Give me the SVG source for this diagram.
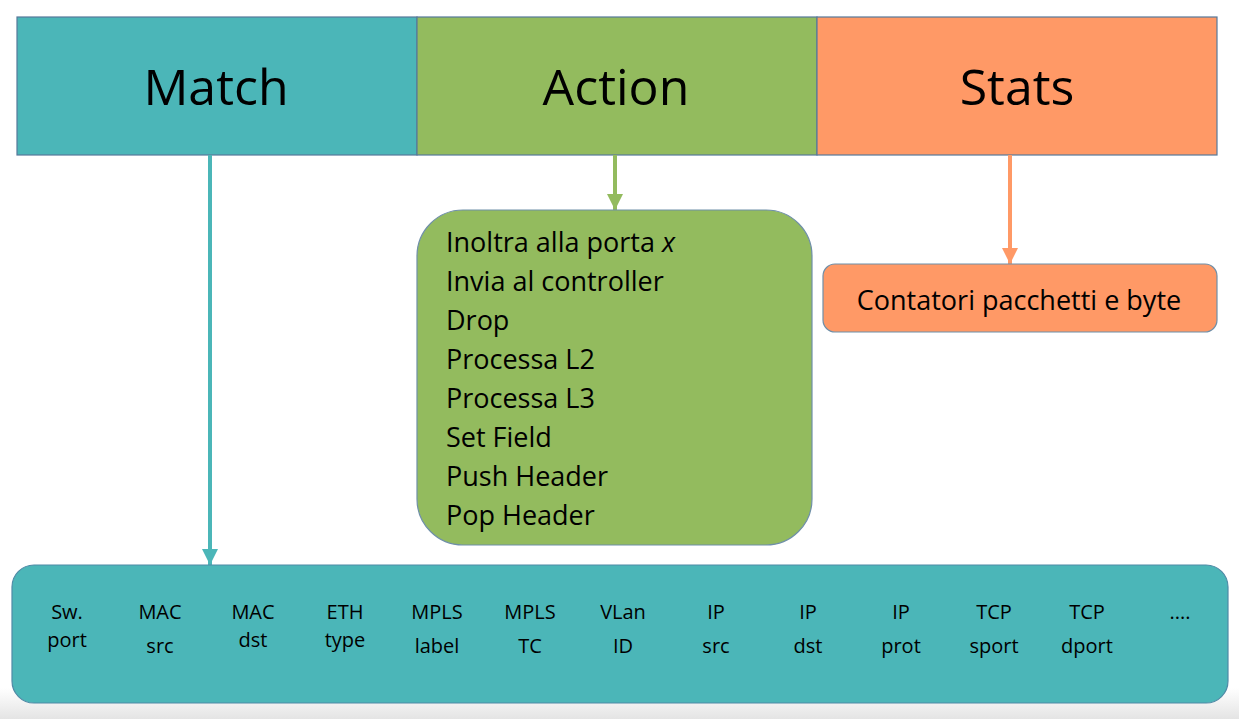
<svg xmlns="http://www.w3.org/2000/svg" width="1239" height="719" viewBox="0 0 1239 719">
  <defs>
    <style>
      .hdr { font-family: "Open Sans", "Liberation Sans", sans-serif; font-size: 50px; fill: #000; text-anchor: middle; }
      .txt { font-family: "Open Sans", "Liberation Sans", sans-serif; font-size: 27px; fill: #000; }
      .fld { font-family: "Open Sans", "Liberation Sans", sans-serif; font-size: 20px; fill: #000; text-anchor: middle; }
      .edge { stroke: #56799a; stroke-width: 1.2; }
    </style>
    <linearGradient id="shade" x1="0" y1="0" x2="0" y2="1">
      <stop offset="0" stop-color="#ffffff"/>
      <stop offset="1" stop-color="#e4e4e4"/>
    </linearGradient>
    <marker id="ahTeal" viewBox="0 0 10 10" refX="10" refY="5" markerWidth="4" markerHeight="4" orient="auto" markerUnits="strokeWidth">
      <path d="M0,0 L10,5 L0,10 Z" fill="#4bb6b8"/>
    </marker>
    <marker id="ahGreen" viewBox="0 0 10 10" refX="10" refY="5" markerWidth="4" markerHeight="4" orient="auto" markerUnits="strokeWidth">
      <path d="M0,0 L10,5 L0,10 Z" fill="#93bb5e"/>
    </marker>
    <marker id="ahOrange" viewBox="0 0 10 10" refX="10" refY="5" markerWidth="4" markerHeight="4" orient="auto" markerUnits="strokeWidth">
      <path d="M0,0 L10,5 L0,10 Z" fill="#ff9966"/>
    </marker>
  </defs>

  <rect x="0" y="0" width="1239" height="719" fill="#ffffff"/>
  <rect x="0" y="688" width="1239" height="31" fill="url(#shade)"/>

  <g id="match-header">
    <rect x="17" y="17" width="400" height="138" fill="#4bb6b8" class="edge"/>
    <text x="216" y="105" class="hdr">Match</text>
  </g>
  <g id="action-header">
    <rect x="417" y="17" width="400" height="138" fill="#93bb5e" class="edge"/>
    <text x="616" y="105" class="hdr">Action</text>
  </g>
  <g id="stats-header">
    <rect x="817" y="17" width="400" height="138" fill="#ff9966" class="edge"/>
    <text x="1017" y="105" class="hdr">Stats</text>
  </g>

  <g id="connectors" fill="none" stroke-width="4">
    <line x1="210" y1="155" x2="210" y2="565" stroke="#4bb6b8" marker-end="url(#ahTeal)"/>
    <line x1="615" y1="155" x2="615" y2="210" stroke="#93bb5e" marker-end="url(#ahGreen)"/>
    <line x1="1010" y1="155" x2="1010" y2="264" stroke="#ff9966" marker-end="url(#ahOrange)"/>
  </g>

  <g id="actions">
    <rect x="417" y="210" width="395" height="335" rx="46" ry="46" fill="#93bb5e" stroke="#6f8fa8" stroke-width="1.2"/>
    <text class="txt" x="446" y="252">Inoltra alla porta <tspan font-style="italic">x</tspan></text>
    <text class="txt" x="446" y="291">Invia al controller</text>
    <text class="txt" x="446" y="330">Drop</text>
    <text class="txt" x="446" y="369">Processa L2</text>
    <text class="txt" x="446" y="408">Processa L3</text>
    <text class="txt" x="446" y="447">Set Field</text>
    <text class="txt" x="446" y="486">Push Header</text>
    <text class="txt" x="446" y="525">Pop Header</text>
  </g>

  <g id="stats">
    <rect x="823" y="264" width="394" height="68" rx="12" ry="12" fill="#ff9966" stroke="#6f8fa8" stroke-width="1.2"/>
    <text class="txt" x="1019" y="310" text-anchor="middle">Contatori pacchetti e byte</text>
  </g>

  <g id="match-fields">
    <rect x="12" y="565" width="1216" height="138" rx="22" ry="22" fill="#4bb6b8" stroke="#4f8aa6" stroke-width="1.2"/>
    <text class="fld" x="67" y="619">Sw.</text><text class="fld" x="67" y="647">port</text>
    <text class="fld" x="160" y="619">MAC</text><text class="fld" x="160" y="653">src</text>
    <text class="fld" x="253" y="619">MAC</text><text class="fld" x="253" y="647">dst</text>
    <text class="fld" x="345" y="619">ETH</text><text class="fld" x="345" y="647">type</text>
    <text class="fld" x="437" y="619">MPLS</text><text class="fld" x="437" y="653">label</text>
    <text class="fld" x="530" y="619">MPLS</text><text class="fld" x="530" y="653">TC</text>
    <text class="fld" x="623" y="619">VLan</text><text class="fld" x="623" y="653">ID</text>
    <text class="fld" x="716" y="619">IP</text><text class="fld" x="716" y="653">src</text>
    <text class="fld" x="808" y="619">IP</text><text class="fld" x="808" y="653">dst</text>
    <text class="fld" x="901" y="619">IP</text><text class="fld" x="901" y="653">prot</text>
    <text class="fld" x="994" y="619">TCP</text><text class="fld" x="994" y="653">sport</text>
    <text class="fld" x="1087" y="619">TCP</text><text class="fld" x="1087" y="653">dport</text>
    <text class="fld" x="1180" y="619">....</text>
  </g>
</svg>
